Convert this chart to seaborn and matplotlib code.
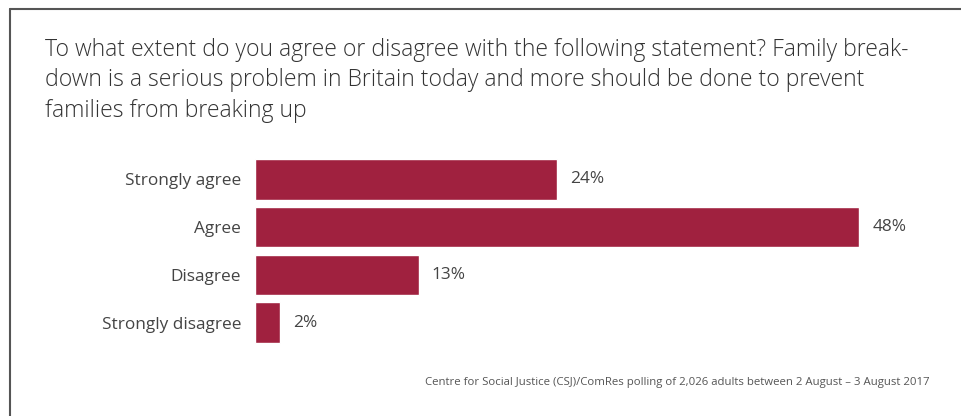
import matplotlib
matplotlib.use("Agg")
import matplotlib.pyplot as plt
import seaborn as sns
import pandas as pd

categories = ["Strongly agree", "Agree", "Disagree", "Strongly disagree"]
values = [24, 48, 13, 2]
value_labels = ["24%", "48%", "13%", "2%"]

title = ("To what extent do you agree or disagree with the following statement? Family break-\n"
         "down is a serious problem in Britain today and more should be done to prevent\n"
         "families from breaking up")
source = "Centre for Social Justice (CSJ)/ComRes polling of 2,026 adults between 2 August \u2013 3 August 2017"

sns.set_theme(style="white")
plt.rcParams["font.family"] = ["Open Sans", "DejaVu Sans"]

W, H = 962, 416
fig = plt.figure(figsize=(W / 100, H / 100), dpi=100)
ax = fig.add_axes([255 / W, 1 - 346.6 / H, 604 / W, (346.6 - 155.4) / H])

df = pd.DataFrame({"category": categories, "value": values})
sns.barplot(data=df, x="value", y="category", orient="h", color="#A0213F",
            saturation=1, width=0.85, ax=ax)

ax.set_xlim(0, 48)
ax.set_xlabel("")
ax.set_ylabel("")
ax.set_xticks([])
for s in ax.spines.values():
    s.set_visible(False)
ax.tick_params(axis="y", length=0, pad=10, labelsize=12.4, labelcolor="#444444")

for i, (v, lab) in enumerate(zip(values, value_labels)):
    ax.annotate(lab, xy=(v, i), xytext=(9.5, 0), textcoords="offset points",
                ha="left", va="center", fontsize=12.4, color="#444444",
                annotation_clip=False)

fig.text(45 / W, 1 - 38 / H, title, ha="left", va="top", fontsize=16.6,
         color="#333333", linespacing=1.36, fontweight="light")
fig.text(930 / W, 1 - 383 / H, source, ha="right", va="center",
         fontsize=8.2, color="#555555")

# frame lines along the top and left edges
fig.add_artist(plt.Line2D([10 / W, 1], [1 - 9 / H, 1 - 9 / H], color="#555555", lw=1.5))
fig.add_artist(plt.Line2D([10 / W, 10 / W], [0, 1 - 9 / H], color="#555555", lw=1.5))

fig.savefig("out.png", dpi=100)
